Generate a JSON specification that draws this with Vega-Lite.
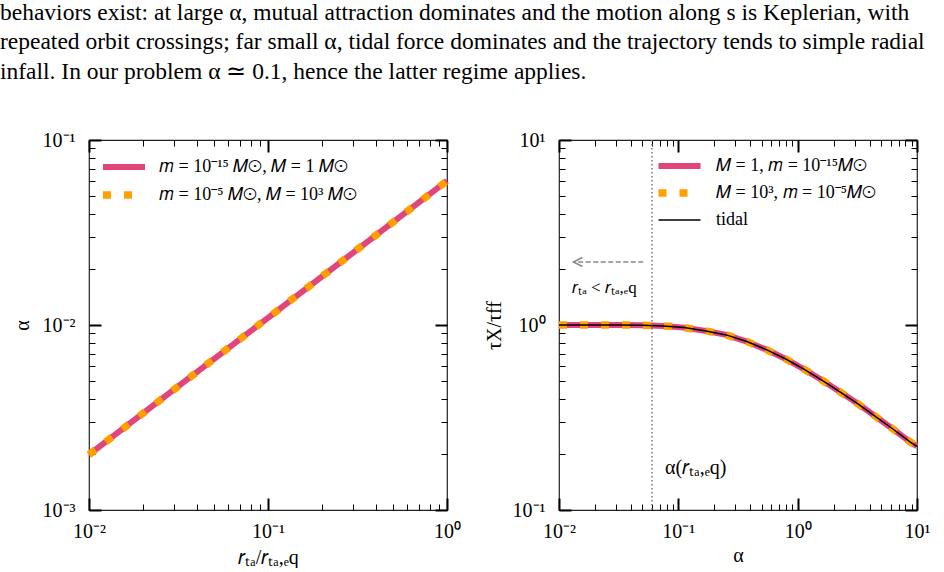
{
  "$schema": "https://vega.github.io/schema/vega-lite/v6.json",
  "padding": {"left": 0, "top": 0, "right": 0, "bottom": 0},
  "background": "white",
  "title": {
    "text": [
      "behaviors exist: at large α, mutual attraction dominates and the motion along s is Keplerian, with",
      "repeated orbit crossings; far small α, tidal force dominates and the trajectory tends to simple radial",
      "infall. In our problem α ≃ 0.1, hence the latter regime applies."
    ],
    "anchor": "start",
    "frame": "group",
    "dx": -89,
    "font": "Liberation Serif",
    "fontSize": 23.5,
    "fontWeight": "normal",
    "color": "#000",
    "lineHeight": 29.5,
    "offset": 46
  },
  "config": {
    "view": {"stroke": "#222", "strokeWidth": 1.2},
    "axis": {
      "grid": false,
      "domain": false,
      "labelFlush": false,
      "labelFont": "Liberation Serif",
      "labelFontSize": 20,
      "labelColor": "#000",
      "titleFont": "Liberation Serif",
      "titleFontSize": 20,
      "titleFontWeight": "normal",
      "titleColor": "#000",
      "tickColor": "#000"
    },
    "legend": {
      "labelFont": "Liberation Serif",
      "labelFontSize": 18,
      "labelColor": "#000",
      "labelLimit": 400,
      "gridAlign": "all"
    }
  },
  "datasets": {
    "alphaLine": [
      {"r": 0.01, "a": 0.00199},
      {"r": 0.0316, "a": 0.00467},
      {"r": 0.1, "a": 0.01094},
      {"r": 0.316, "a": 0.02564},
      {"r": 1, "a": 0.0601}
    ],
    "tau": [
      {"alpha": 0.01, "tau": 1.0},
      {"alpha": 0.0145, "tau": 1.0},
      {"alpha": 0.0221, "tau": 1.0},
      {"alpha": 0.0331, "tau": 1.0},
      {"alpha": 0.05, "tau": 0.997},
      {"alpha": 0.075, "tau": 0.989},
      {"alpha": 0.112, "tau": 0.968},
      {"alpha": 0.17, "tau": 0.929},
      {"alpha": 0.252, "tau": 0.884},
      {"alpha": 0.375, "tau": 0.814},
      {"alpha": 0.552, "tau": 0.734},
      {"alpha": 0.802, "tau": 0.653},
      {"alpha": 1.135, "tau": 0.576},
      {"alpha": 1.617, "tau": 0.501},
      {"alpha": 2.275, "tau": 0.434},
      {"alpha": 3.2, "tau": 0.375},
      {"alpha": 4.47, "tau": 0.321},
      {"alpha": 6.28, "tau": 0.274},
      {"alpha": 8.79, "tau": 0.233},
      {"alpha": 10, "tau": 0.221}
    ],
    "vline": [{"alpha": 0.0601}],
    "arrow": [{"xs": 0.0508, "xe": 0.0132, "y": 2.19}],
    "note1": [{"x": 0.0129, "y": 1.59, "t": "𝑟ₜₐ < 𝑟ₜₐ,ₑq"}],
    "note2": [{"x": 0.0775, "y": 0.169, "t": "α(𝑟ₜₐ,ₑq)"}]
  },
  "bounds": "flush",
  "spacing": 112,
  "resolve": {
    "scale": {"color": "independent"},
    "legend": {"color": "independent"}
  },
  "hconcat": [
    {
      "width": 358,
      "height": 370,
      "data": {"name": "alphaLine"},
      "resolve": {"axis": {"x": "independent", "y": "independent"}},
      "layer": [
        {
          "mark": {"type": "line", "strokeCap": "butt", "strokeWidth": 6},
          "encoding": {
            "x": {"field": "r", "type": "quantitative", "scale": {"type": "log", "domain": [0.01, 1], "nice": false},
              "axis": {"orient": "bottom", "values": [0.01, 0.1, 1], "tickSize": -12, "tickWidth": 2, "labelPadding": 23, "title": "𝑟ₜₐ/𝑟ₜₐ,ₑq", "titlePadding": 6,
                "labelExpr": "datum.value < 0.005 ? '10⁻³' : datum.value < 0.05 ? '10⁻²' : datum.value < 0.5 ? '10⁻¹' : datum.value < 5 ? '10⁰' : '10¹'"}},
            "y": {"field": "a", "type": "quantitative", "scale": {"type": "log", "domain": [0.001, 0.1], "nice": false},
              "axis": {"orient": "left", "values": [0.001, 0.01, 0.1], "tickSize": -12, "tickWidth": 2, "labelPadding": 26, "title": "α", "titlePadding": 10,
                "labelExpr": "datum.value < 0.005 ? '10⁻³' : datum.value < 0.05 ? '10⁻²' : datum.value < 0.5 ? '10⁻¹' : datum.value < 5 ? '10⁰' : '10¹'"}},
            "color": {"datum": "𝑚 = 10⁻¹⁵ 𝑀⊙,  𝑀 = 1 𝑀⊙", "type": "nominal",
              "scale": {"domain": ["𝑚 = 10⁻¹⁵ 𝑀⊙,  𝑀 = 1 𝑀⊙", "𝑚 = 10⁻⁵ 𝑀⊙,  𝑀 = 10³ 𝑀⊙"], "range": ["#E2457A", "#FFA000"]},
              "legend": {"orient": "none", "legendX": 26, "legendY": 18, "title": null, "symbolType": "M-2,0H2", "symbolSize": 441, "rowPadding": -2, "labelOffset": 26, "padding": 0,
                "encode": {"symbols": {"update": {
                  "strokeDash": {"signal": "datum.index === 1 ? [8, 13] : [1, 0]"},
                  "strokeWidth": {"signal": "datum.index === 1 ? 7.5 : 6"},
                  "fill": {"value": "transparent"}
                }}}}}
          }
        },
        {
          "mark": {"type": "line", "strokeCap": "butt", "strokeWidth": 7.5, "strokeDash": [8, 13]},
          "encoding": {
            "x": {"field": "r", "type": "quantitative", "scale": {"type": "log", "domain": [0.01, 1], "nice": false},
              "axis": {"orient": "bottom", "values": [0.02, 0.03, 0.04, 0.05, 0.06, 0.07, 0.08, 0.09, 0.2, 0.3, 0.4, 0.5, 0.6, 0.7, 0.8, 0.9], "tickSize": -6, "tickWidth": 1, "labels": false, "title": null}},
            "y": {"field": "a", "type": "quantitative", "scale": {"type": "log", "domain": [0.001, 0.1], "nice": false},
              "axis": {"orient": "left", "values": [0.002, 0.003, 0.004, 0.005, 0.006, 0.007, 0.008, 0.009, 0.02, 0.03, 0.04, 0.05, 0.06, 0.07, 0.08, 0.09], "tickSize": -6, "tickWidth": 1, "labels": false, "title": null}},
            "color": {"datum": "𝑚 = 10⁻⁵ 𝑀⊙,  𝑀 = 10³ 𝑀⊙", "type": "nominal"}
          }
        },
        {
          "mark": {"type": "line", "opacity": 0},
          "encoding": {
            "x": {"field": "r", "type": "quantitative", "scale": {"type": "log", "domain": [0.01, 1], "nice": false},
              "axis": {"orient": "top", "values": [0.01, 0.1, 1], "tickSize": -12, "tickWidth": 2, "labels": false, "title": null}},
            "y": {"field": "a", "type": "quantitative", "scale": {"type": "log", "domain": [0.001, 0.1], "nice": false},
              "axis": {"orient": "right", "values": [0.001, 0.01, 0.1], "tickSize": -12, "tickWidth": 2, "labels": false, "title": null}}
          }
        },
        {
          "mark": {"type": "line", "opacity": 0},
          "encoding": {
            "x": {"field": "r", "type": "quantitative", "scale": {"type": "log", "domain": [0.01, 1], "nice": false},
              "axis": {"orient": "top", "values": [0.02, 0.03, 0.04, 0.05, 0.06, 0.07, 0.08, 0.09, 0.2, 0.3, 0.4, 0.5, 0.6, 0.7, 0.8, 0.9], "tickSize": -6, "tickWidth": 1, "labels": false, "title": null}},
            "y": {"field": "a", "type": "quantitative", "scale": {"type": "log", "domain": [0.001, 0.1], "nice": false},
              "axis": {"orient": "right", "values": [0.002, 0.003, 0.004, 0.005, 0.006, 0.007, 0.008, 0.009, 0.02, 0.03, 0.04, 0.05, 0.06, 0.07, 0.08, 0.09], "tickSize": -6, "tickWidth": 1, "labels": false, "title": null}}
          }
        }
      ]
    },
    {
      "width": 358,
      "height": 370,
      "resolve": {"axis": {"x": "independent", "y": "independent"}},
      "layer": [
        {
          "data": {"name": "tau"},
          "mark": {"type": "line", "strokeCap": "butt", "strokeWidth": 6},
          "encoding": {
            "x": {"field": "alpha", "type": "quantitative", "scale": {"type": "log", "domain": [0.01, 10], "nice": false},
              "axis": {"orient": "bottom", "values": [0.01, 0.1, 1, 10], "tickSize": -12, "tickWidth": 2, "labelPadding": 23, "title": "α", "titlePadding": 4,
                "labelExpr": "datum.value < 0.005 ? '10⁻³' : datum.value < 0.05 ? '10⁻²' : datum.value < 0.5 ? '10⁻¹' : datum.value < 5 ? '10⁰' : '10¹'"}},
            "y": {"field": "tau", "type": "quantitative", "scale": {"type": "log", "domain": [0.1, 10], "nice": false},
              "axis": {"orient": "left", "values": [0.1, 1, 10], "tickSize": -12, "tickWidth": 2, "labelPadding": 26, "title": "τX/τff", "titlePadding": 8,
                "labelExpr": "datum.value < 0.005 ? '10⁻³' : datum.value < 0.05 ? '10⁻²' : datum.value < 0.5 ? '10⁻¹' : datum.value < 5 ? '10⁰' : '10¹'"}},
            "color": {"datum": "𝑀 = 1, 𝑚 = 10⁻¹⁵𝑀⊙", "type": "nominal",
              "scale": {"domain": ["𝑀 = 1, 𝑚 = 10⁻¹⁵𝑀⊙", "𝑀 = 10³, 𝑚 = 10⁻⁵𝑀⊙", "tidal"], "range": ["#E2457A", "#FFA000", "#000000"]},
              "legend": {"orient": "none", "legendX": 111.5, "legendY": 17, "title": null, "symbolType": "M-2,0H2", "symbolSize": 441, "rowPadding": -3, "labelOffset": 27.5, "padding": 0,
                "encode": {"symbols": {"update": {
                  "strokeDash": {"signal": "datum.index === 1 ? [8, 13] : [1, 0]"},
                  "strokeWidth": {"signal": "datum.index === 1 ? 7.5 : datum.index === 2 ? 1.5 : 6"},
                  "fill": {"value": "transparent"}
                }}}}}
          }
        },
        {
          "data": {"name": "tau"},
          "mark": {"type": "line", "strokeCap": "butt", "strokeWidth": 7.5, "strokeDash": [8, 13]},
          "encoding": {
            "x": {"field": "alpha", "type": "quantitative", "scale": {"type": "log", "domain": [0.01, 10], "nice": false},
              "axis": {"orient": "bottom", "values": [0.02, 0.03, 0.04, 0.05, 0.06, 0.07, 0.08, 0.09, 0.2, 0.3, 0.4, 0.5, 0.6, 0.7, 0.8, 0.9, 2, 3, 4, 5, 6, 7, 8, 9], "tickSize": -6, "tickWidth": 1, "labels": false, "title": null}},
            "y": {"field": "tau", "type": "quantitative", "scale": {"type": "log", "domain": [0.1, 10], "nice": false},
              "axis": {"orient": "left", "values": [0.2, 0.3, 0.4, 0.5, 0.6, 0.7, 0.8, 0.9, 2, 3, 4, 5, 6, 7, 8, 9], "tickSize": -6, "tickWidth": 1, "labels": false, "title": null}},
            "color": {"datum": "𝑀 = 10³, 𝑚 = 10⁻⁵𝑀⊙", "type": "nominal"}
          }
        },
        {
          "data": {"name": "tau"},
          "mark": {"type": "line", "strokeCap": "butt", "strokeWidth": 1.5},
          "encoding": {
            "x": {"field": "alpha", "type": "quantitative", "scale": {"type": "log", "domain": [0.01, 10], "nice": false},
              "axis": {"orient": "top", "values": [0.01, 0.1, 1, 10], "tickSize": -12, "tickWidth": 2, "labels": false, "title": null}},
            "y": {"field": "tau", "type": "quantitative", "scale": {"type": "log", "domain": [0.1, 10], "nice": false},
              "axis": {"orient": "right", "values": [0.1, 1, 10], "tickSize": -12, "tickWidth": 2, "labels": false, "title": null}},
            "color": {"datum": "tidal", "type": "nominal"}
          }
        },
        {
          "data": {"name": "vline"},
          "mark": {"type": "rule", "color": "#777777", "strokeDash": [1.5, 2.5], "strokeWidth": 1.5},
          "encoding": {
            "x": {"field": "alpha", "type": "quantitative", "scale": {"type": "log", "domain": [0.01, 10], "nice": false},
              "axis": {"orient": "top", "values": [0.02, 0.03, 0.04, 0.05, 0.06, 0.07, 0.08, 0.09, 0.2, 0.3, 0.4, 0.5, 0.6, 0.7, 0.8, 0.9, 2, 3, 4, 5, 6, 7, 8, 9], "tickSize": -6, "tickWidth": 1, "labels": false, "title": null}}
          }
        },
        {
          "data": {"name": "arrow"},
          "mark": {"type": "rule", "color": "#888888", "strokeDash": [5, 2.5], "strokeWidth": 1.5},
          "encoding": {
            "x": {"field": "xs", "type": "quantitative", "scale": {"type": "log", "domain": [0.01, 10], "nice": false}, "axis": null},
            "x2": {"field": "xe"},
            "y": {"field": "y", "type": "quantitative", "scale": {"type": "log", "domain": [0.1, 10], "nice": false}, "axis": null}
          }
        },
        {
          "data": {"name": "arrow"},
          "mark": {"type": "point", "shape": "M2,-1L0,0L2,1", "filled": false, "stroke": "#888888", "strokeWidth": 1.5, "size": 81, "opacity": 1},
          "encoding": {
            "x": {"field": "xe", "type": "quantitative", "scale": {"type": "log", "domain": [0.01, 10], "nice": false}, "axis": null},
            "y": {"field": "y", "type": "quantitative", "scale": {"type": "log", "domain": [0.1, 10], "nice": false}, "axis": null}
          }
        },
        {
          "data": {"name": "note1"},
          "mark": {"type": "text", "align": "left", "baseline": "middle", "font": "Liberation Serif", "fontSize": 17, "color": "#000"},
          "encoding": {
            "x": {"field": "x", "type": "quantitative", "scale": {"type": "log", "domain": [0.01, 10], "nice": false}, "axis": null},
            "y": {"field": "y", "type": "quantitative", "scale": {"type": "log", "domain": [0.1, 10], "nice": false},
              "axis": {"orient": "right", "values": [0.2, 0.3, 0.4, 0.5, 0.6, 0.7, 0.8, 0.9, 2, 3, 4, 5, 6, 7, 8, 9], "tickSize": -6, "tickWidth": 1, "labels": false, "title": null}},
            "text": {"field": "t"}
          }
        },
        {
          "data": {"name": "note2"},
          "mark": {"type": "text", "align": "left", "baseline": "middle", "font": "Liberation Serif", "fontSize": 20, "color": "#000"},
          "encoding": {
            "x": {"field": "x", "type": "quantitative", "scale": {"type": "log", "domain": [0.01, 10], "nice": false}, "axis": null},
            "y": {"field": "y", "type": "quantitative", "scale": {"type": "log", "domain": [0.1, 10], "nice": false}, "axis": null},
            "text": {"field": "t"}
          }
        }
      ]
    }
  ]
}
